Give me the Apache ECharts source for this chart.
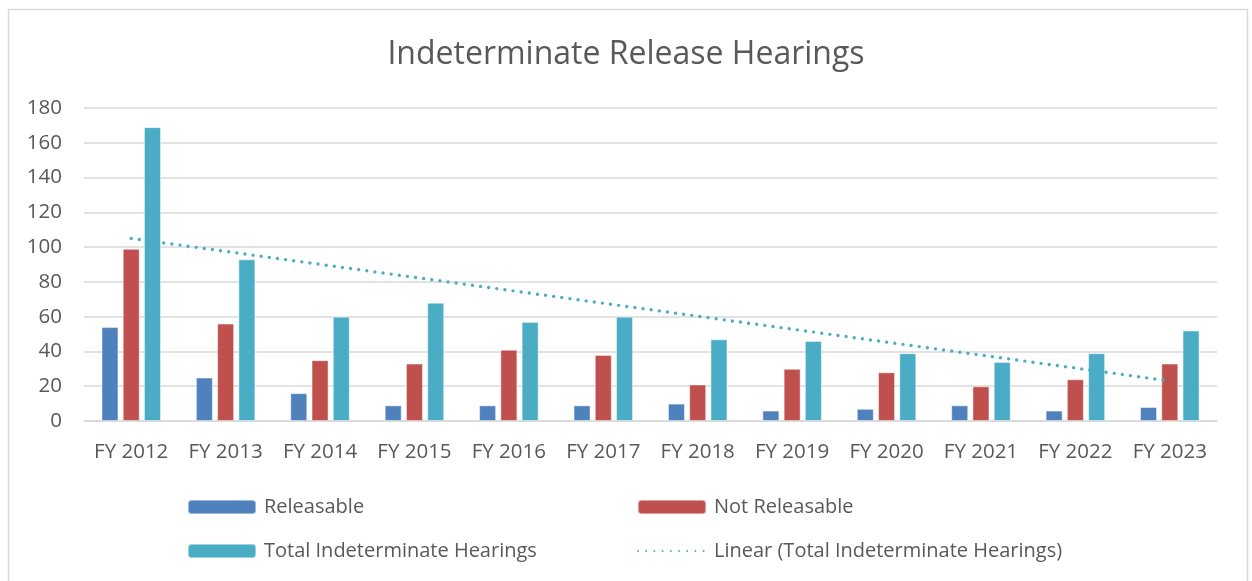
<!DOCTYPE html>
<html>
<head>
<meta charset="utf-8">
<script src="https://cdn.jsdelivr.net/npm/echarts@6/dist/echarts.min.js"></script>
<style>html,body{margin:0;padding:0;background:#fff;}#c{width:1252px;height:581px;}</style>
</head>
<body>
<div id="c"></div>
<script>
var categories = ['FY 2012','FY 2013','FY 2014','FY 2015','FY 2016','FY 2017','FY 2018','FY 2019','FY 2020','FY 2021','FY 2022','FY 2023'];
var releasable = [54, 25, 16, 9, 9, 9, 10, 6, 7, 9, 6, 8];
var notReleasable = [99, 56, 35, 33, 41, 38, 21, 30, 28, 20, 24, 33];
var totalHearings = [169, 93, 60, 68, 57, 60, 47, 46, 39, 34, 39, 52];
// trend line endpoints (first and last category)
var trendPoints = [[0, 105], [11, 23]];
var yTicks = [0, 20, 40, 60, 80, 100, 120, 140, 160, 180];

var FONT = 'Open Sans';
var TXT = '#595959';
var chart = echarts.init(document.getElementById('c'), null, {renderer: 'canvas'});
var legendText = {color: TXT, fontSize: 20, fontFamily: FONT, padding: [0, 0, 0, 3]};
chart.setOption({
  animation: false,
  backgroundColor: '#fff',
  title: {
    text: 'Indeterminate Release Hearings',
    left: 'center', top: 34,
    textStyle: {color: TXT, fontSize: 32, fontWeight: 'normal', fontFamily: FONT}
  },
  graphic: [{
    type: 'rect', silent: true, z: -1,
    shape: {x: 8.5, y: 9.5, width: 1239, height: 620},
    style: {fill: 'none', stroke: '#d9d9d9', lineWidth: 1.5}
  }],
  legend: [
    {data: ['Releasable'], left: 182, top: 492, itemWidth: 68, itemHeight: 14, textStyle: legendText},
    {data: ['Not Releasable'], left: 632, top: 492, itemWidth: 68, itemHeight: 14, textStyle: legendText},
    {data: ['Total Indeterminate Hearings'], left: 182, top: 536, itemWidth: 68, itemHeight: 14, textStyle: legendText},
    {data: ['Linear (Total Indeterminate Hearings)'], left: 632, top: 536, itemWidth: 68, itemHeight: 14,
     itemStyle: {opacity: 0}, textStyle: legendText}
  ],
  grid: {left: 84, right: 35, top: 108, bottom: 160, containLabel: false},
  xAxis: {
    type: 'category', data: categories,
    axisLine: {lineStyle: {color: '#d9d9d9', width: 1.5}},
    axisTick: {show: false},
    axisLabel: {color: TXT, fontSize: 20.5, fontFamily: FONT, margin: 21, interval: 0, hideOverlap: false}
  },
  yAxis: {
    type: 'value', min: yTicks[0], max: yTicks[yTicks.length - 1], interval: 20,
    axisLine: {show: false}, axisTick: {show: false},
    splitLine: {lineStyle: {color: '#d9d9d9', width: 1.5}},
    axisLabel: {color: TXT, fontSize: 20.5, fontFamily: FONT, margin: 22}
  },
  series: [
    {name: 'Releasable', type: 'bar', data: releasable, barWidth: 17, barGap: '25%',
     itemStyle: {color: '#4f81bd', borderColor: 'rgba(255,255,255,0.45)', borderWidth: 1}},
    {name: 'Not Releasable', type: 'bar', data: notReleasable, barWidth: 17, barGap: '25%',
     itemStyle: {color: '#c0504d', borderColor: 'rgba(255,255,255,0.45)', borderWidth: 1}},
    {name: 'Total Indeterminate Hearings', type: 'bar', data: totalHearings, barWidth: 17, barGap: '25%',
     itemStyle: {color: '#4bacc6', borderColor: 'rgba(255,255,255,0.45)', borderWidth: 1}},
    {name: 'Linear (Total Indeterminate Hearings)', type: 'line', data: trendPoints,
     symbol: 'none', z: 5,
     itemStyle: {color: '#4bacc6'},
     lineStyle: {color: '#4bacc6', width: 3.4, type: [0, 8.2], cap: 'round'}}
  ]
});
</script>
</body>
</html>
